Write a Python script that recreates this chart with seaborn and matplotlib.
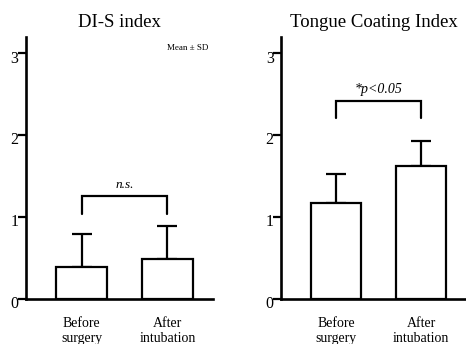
import matplotlib
matplotlib.use("Agg")
import matplotlib.pyplot as plt
import matplotlib.transforms as mtransforms
import seaborn as sns

categories = ["Before\nsurgery", "After\nintubation"]
dis_mean = [0.39, 0.48]
dis_sd = [0.40, 0.41]
tci_mean = [1.17, 1.62]
tci_sd = [0.35, 0.30]
titles = ["DI-S index", "Tongue Coating Index"]
sig_labels = ["n.s.", "*p<0.05"]
bracket_low = [1.04, 2.21]
bracket_high = [1.25, 2.42]
sig_y = [1.39, 2.55]
yticks = [0, 1, 2, 3]

sns.set_style("ticks")
plt.rcParams["font.family"] = ["Liberation Serif", "DejaVu Serif"]
plt.rcParams.update({
    "axes.edgecolor": "black",
    "text.color": "black",
    "xtick.color": "black",
    "ytick.color": "black",
    "axes.labelcolor": "black",
})

fig = plt.figure(figsize=(4.66, 3.44), dpi=100)
ax1 = fig.add_axes([26 / 466, (344 - 298.7) / 344, 187 / 466, 262 / 344])
ax2 = fig.add_axes([281.3 / 466, (344 - 298.7) / 344, 184.7 / 466, 262 / 344])

panels = [(ax1, dis_mean, dis_sd), (ax2, tci_mean, tci_sd)]
for i, (ax, means, sds) in enumerate(panels):
    sns.barplot(x=categories, y=means, ax=ax, color="white", edgecolor="black",
                linewidth=1.6, width=0.59, saturation=1, errorbar=None, zorder=2)
    xs = list(range(len(categories)))
    ax.errorbar(xs, means, yerr=[[0] * len(sds), sds], fmt="none", ecolor="black",
                elinewidth=1.6, capsize=7.5, capthick=1.6, zorder=1)
    ax.plot([0, 0, 1, 1], [bracket_low[i], bracket_high[i], bracket_high[i], bracket_low[i]],
            color="black", lw=1.6, solid_joinstyle="miter")
    ax.text(0.5, sig_y[i], sig_labels[i], ha="center", va="center",
            fontsize=9.5 if i == 0 else 10, style="italic")
    ax.set_xlim(-0.646, 1.53)
    ax.set_ylim(0, 3.2)
    ax.set_yticks(yticks)
    ax.set_yticklabels([str(t) for t in yticks])
    ax.set_title(titles[i], fontsize=13.5, pad=7)
    sns.despine(ax=ax)
    for s in ["left", "bottom"]:
        ax.spines[s].set_linewidth(1.9)
        ax.spines[s].set_color("black")
    ax.tick_params(axis="x", length=0, pad=13.5, labelsize=10, colors="black")
    ax.tick_params(axis="y", length=5.5, width=1.6, pad=0, labelsize=11.5,
                   direction="out", colors="black")
    ax.set_xlabel("")
    ax.set_ylabel("")
    off = mtransforms.ScaledTranslation(0, -3.5 / 100, fig.dpi_scale_trans)
    for lab in ax.get_yticklabels():
        lab.set_transform(lab.get_transform() + off)

ax1.text(1.24, 3.06, "Mean ± SD", ha="center", va="center", fontsize=6.5)

fig.savefig("out.png", dpi=100)
